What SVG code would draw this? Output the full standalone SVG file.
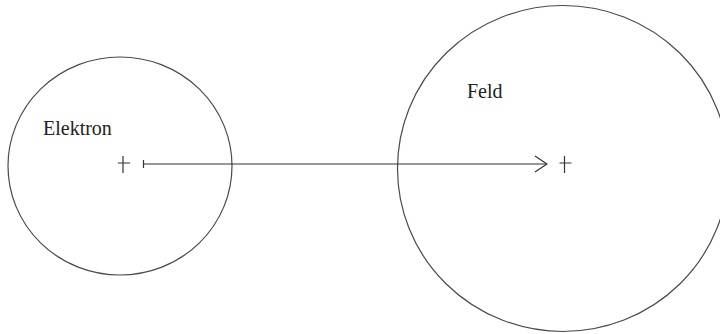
<svg xmlns="http://www.w3.org/2000/svg" width="720" height="334" viewBox="0 0 720 334">
<defs>
<style>
.ring{fill:none;stroke:#4a4a4a;stroke-width:1.2}
.ln{fill:none;stroke:#333;stroke-width:1.2}
.lbl{font-family:'Liberation Serif','DejaVu Serif',serif;font-size:20px;fill:#222}
</style>
<marker id="open" markerWidth="14" markerHeight="18" refX="13" refY="9" orient="auto" markerUnits="userSpaceOnUse">
<path d="M1,1 L13,9 L1,17" fill="none" stroke="#333" stroke-width="1.2"/>
</marker>
</defs>
<rect width="720" height="334" fill="#fff"/>
<g id="elektron">
<ellipse class="ring" cx="120" cy="166" rx="112" ry="109"/>
<text class="lbl" x="43" y="135" font-family="'Liberation Serif','DejaVu Serif',serif">Elektron</text>
<path class="ln" d="M123,156 V173 M118,163 H130"/>
</g>
<g id="feld">
<ellipse class="ring" cx="563" cy="168.5" rx="165.5" ry="163"/>
<text class="lbl" x="467" y="98" font-family="'Liberation Serif','DejaVu Serif',serif">Feld</text>
<path class="ln" d="M564.5,156 V173 M559.5,163 H571.5"/>
</g>
<g id="connectors">
<path class="ln" d="M143.5,160 V168"/>
<line class="ln" x1="143.5" y1="164" x2="547" y2="164" marker-end="url(#open)"/>
</g>
</svg>
